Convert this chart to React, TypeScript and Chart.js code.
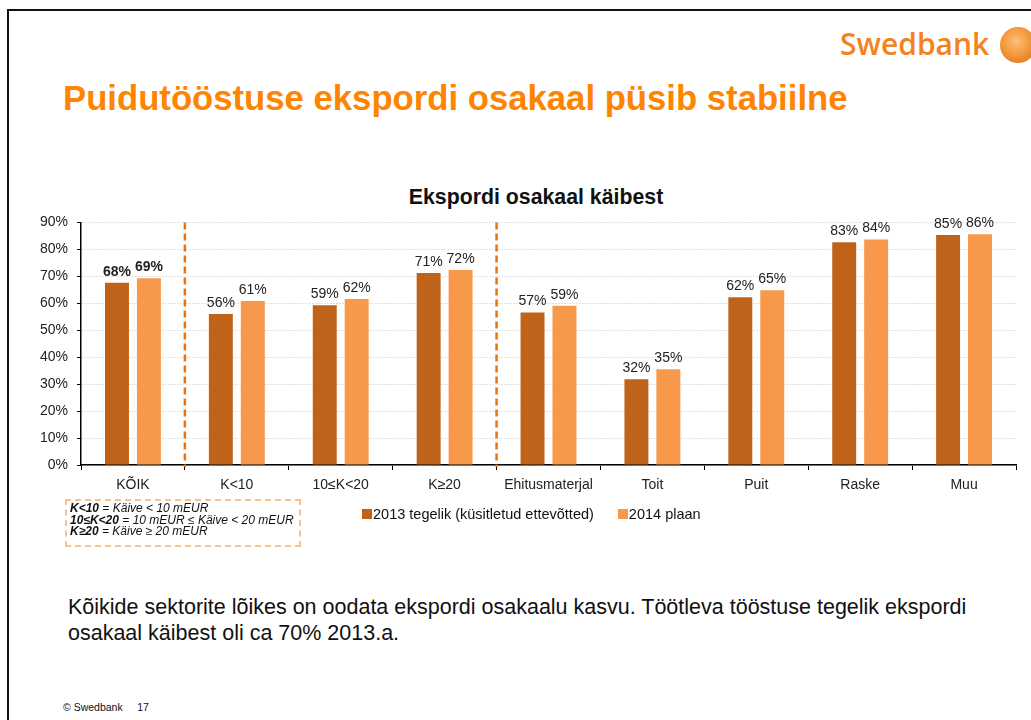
import React, { useEffect, useRef } from "react";
import { Chart, registerables } from "chart.js";

Chart.register(...registerables);

const categories = ["KÕIK", "K<10", "10≤K<20", "K≥20", "Ehitusmaterjal", "Toit", "Puit", "Raske", "Muu"];
const values2013 = [67.6, 56, 59.3, 71.2, 56.6, 31.8, 62.2, 82.6, 85.3];
const values2014 = [69.3, 60.8, 61.6, 72.3, 59.1, 35.5, 64.8, 83.7, 85.6];
const labels2013 = ["68%", "56%", "59%", "71%", "57%", "32%", "62%", "83%", "85%"];
const labels2014 = ["69%", "61%", "62%", "72%", "59%", "35%", "65%", "84%", "86%"];
const seriesNames = ["2013 tegelik (küsitletud ettevõtted)", "2014 plaan"];
const yTicks = [0, 10, 20, 30, 40, 50, 60, 70, 80, 90];
const separatorsAfter = [0, 3];
const boldCategory = 0;

const DARK = "#C0631A";
const LIGHT = "#F7984A";
const FONT = "'Liberation Sans', Arial, sans-serif";

const separatorPlugin = {
  id: "separators",
  afterDraw(chart: any) {
    const { ctx, chartArea, scales } = chart;
    const x = scales.x;
    ctx.save();
    ctx.strokeStyle = "#E8730F";
    ctx.lineWidth = 2.5;
    ctx.setLineDash([7, 4]);
    separatorsAfter.forEach((i) => {
      const px = (x.getPixelForValue(i) + x.getPixelForValue(i + 1)) / 2;
      ctx.beginPath();
      ctx.moveTo(px, chartArea.top);
      ctx.lineTo(px, chartArea.bottom + 2);
      ctx.stroke();
    });
    ctx.restore();
  },
};

const labelPlugin = {
  id: "barLabels",
  afterDatasetsDraw(chart: any) {
    const { ctx } = chart;
    const allLabels = [labels2013, labels2014];
    ctx.save();
    ctx.textAlign = "center";
    ctx.textBaseline = "bottom";
    ctx.fillStyle = "#222";
    chart.data.datasets.forEach((ds: any, di: number) => {
      const meta = chart.getDatasetMeta(di);
      meta.data.forEach((bar: any, i: number) => {
        ctx.font = `${i === boldCategory ? "bold " : ""}14px ${FONT}`;
        ctx.fillText(allLabels[di][i], bar.x, bar.y - 4);
      });
    });
    ctx.restore();
  },
};

function ChartCanvas() {
  const ref = useRef<HTMLCanvasElement>(null);
  useEffect(() => {
    if (!ref.current) return;
    const chart = new Chart(ref.current, {
      type: "bar",
      data: {
        labels: categories,
        datasets: [
          { label: seriesNames[0], data: values2013, backgroundColor: DARK },
          { label: seriesNames[1], data: values2014, backgroundColor: LIGHT },
        ],
      },
      options: {
        responsive: false,
        animation: false,
        devicePixelRatio: 1,
        layout: { padding: { top: 7, right: 15, left: 0, bottom: 0 } },
        datasets: { bar: { categoryPercentage: 0.615, barPercentage: 0.75 } },
        plugins: { legend: { display: false }, tooltip: { enabled: false }, title: { display: false } },
        scales: {
          x: {
            grid: { drawOnChartArea: false, tickLength: 5, color: "#000", tickColor: "#000" },
            border: { color: "#000", width: 1.5 },
            ticks: { color: "#222", font: { family: FONT, size: 14 }, padding: 7, maxRotation: 0, autoSkip: false },
            afterFit: (s: any) => { s.height = 45; },
          },
          y: {
            min: 0,
            max: 90,
            afterBuildTicks: (s: any) => { s.ticks = yTicks.map((v) => ({ value: v })); },
            grid: { color: "#c4c4c4", lineWidth: 1, tickColor: "#000", tickLength: 4, tickBorderDash: [] },
            border: { color: "#000", width: 1.5, dash: [1, 2] },
            ticks: { color: "#222", font: { family: FONT, size: 14 }, padding: 9, callback: (v: any) => `${v}%` },
            afterFit: (s: any) => { s.width = 61; },
          },
        },
      },
      plugins: [separatorPlugin, labelPlugin],
    });
    return () => chart.destroy();
  }, []);
  return <canvas ref={ref} width={1011} height={305} style={{ position: "absolute", left: 20, top: 205, width: 1011, height: 305 }} />;
}

export default function App() {
  useEffect(() => {
    document.body.style.margin = "0";
  }, []);
  return (
    <div style={{ position: "relative", width: 1031, height: 720, overflow: "hidden", background: "#fff", fontFamily: FONT, color: "#222" }}>
      <div style={{ position: "absolute", left: 7, top: 9, width: 1040, height: 720, borderTop: "2px solid #111", borderLeft: "2px solid #111" }} />
      <div style={{ position: "absolute", left: 840, top: 23, fontFamily: "'Open Sans', sans-serif", fontWeight: 600, fontSize: 30, color: "#F58220", lineHeight: "42px" }}>Swedbank</div>
      <div style={{ position: "absolute", left: 1000, top: 27, width: 36, height: 36, borderRadius: "50%", background: "radial-gradient(circle at 45% 40%, #FCC07A 0%, #F39A3C 45%, #D86A12 100%)" }} />
      <div style={{ position: "absolute", left: 63, top: 78, fontSize: 34.7, fontWeight: "bold", color: "#FF8400", whiteSpace: "nowrap", lineHeight: "40px" }}>
        Puidutööstuse ekspordi osakaal püsib stabiilne
      </div>
      <div style={{ position: "absolute", left: 336, width: 400, top: 185, textAlign: "center", fontSize: 21.3, fontWeight: "bold", color: "#111", lineHeight: "24px" }}>
        Ekspordi osakaal käibest
      </div>
      <ChartCanvas />
      <div style={{ position: "absolute", left: 65, top: 499, width: 229, height: 42, border: "2px dashed #FAC090", padding: "2px 0 0 3px", fontSize: 12, fontStyle: "italic", lineHeight: "11.5px", color: "#111", whiteSpace: "nowrap" }}>
        <div><b>K&lt;10</b> = Käive &lt; 10 mEUR</div>
        <div><b>10≤K&lt;20</b> = 10 mEUR ≤ Käive &lt; 20 mEUR</div>
        <div><b>K≥20</b> = Käive ≥ 20 mEUR</div>
      </div>
      <div style={{ position: "absolute", left: 362, top: 505, display: "flex", alignItems: "center", fontSize: 14.5, lineHeight: "18px", whiteSpace: "nowrap", color: "#111" }}>
        <span style={{ display: "inline-block", width: 10, height: 10, background: DARK, marginRight: 1 }} />
        <span>{seriesNames[0]}</span>
        <span style={{ display: "inline-block", width: 10, height: 10, background: LIGHT, marginLeft: 24, marginRight: 1 }} />
        <span>{seriesNames[1]}</span>
      </div>
      <div style={{ position: "absolute", left: 68, top: 594, width: 930, fontSize: 21.5, lineHeight: "26px", color: "#111" }}>
        Kõikide sektorite lõikes on oodata ekspordi osakaalu kasvu. Töötleva tööstuse tegelik ekspordi osakaal käibest oli ca 70% 2013.a.
      </div>
      <div style={{ position: "absolute", left: 63, top: 701, fontSize: 10.5, color: "#111", whiteSpace: "pre" }}>
        {"© Swedbank     17"}
      </div>
    </div>
  );
}
